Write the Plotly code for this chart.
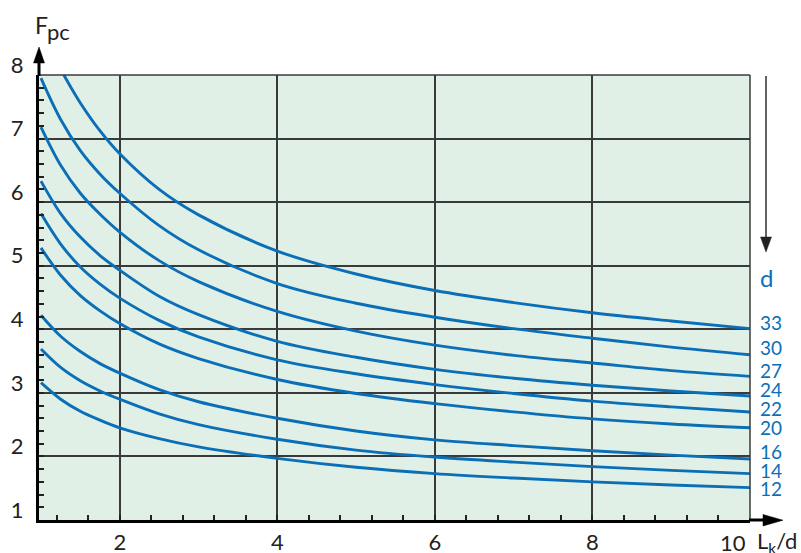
import plotly.graph_objects as go

# ---------------- data ----------------
diameters = ["33", "30", "27", "24", "22", "20", "16", "14", "12"]

x_d33 = [1.29, 1.5, 1.75, 2, 2.5, 3, 4, 5, 6, 7, 8, 9, 10]
y_d33 = [8.0, 7.56, 7.12, 6.76, 6.20, 5.80, 5.23, 4.87, 4.61, 4.42, 4.26, 4.13, 4.01]

x_common = [1, 1.25, 1.5, 1.75, 2, 2.5, 3, 4, 5, 6, 7, 8, 9, 10]
y_d30 = [7.95, 7.30, 6.81, 6.44, 6.14, 5.63, 5.25, 4.72, 4.41, 4.19, 4.01, 3.86, 3.72, 3.60]
y_d27 = [7.18, 6.58, 6.14, 5.81, 5.53, 5.08, 4.75, 4.28, 3.97, 3.75, 3.59, 3.47, 3.35, 3.26]
y_d24 = [6.33, 5.82, 5.45, 5.16, 4.93, 4.52, 4.23, 3.81, 3.56, 3.37, 3.23, 3.12, 3.03, 2.95]
y_d22 = [5.82, 5.34, 4.98, 4.71, 4.49, 4.14, 3.88, 3.52, 3.30, 3.13, 2.99, 2.87, 2.78, 2.70]
y_d20 = [5.28, 4.85, 4.53, 4.29, 4.09, 3.77, 3.54, 3.21, 2.99, 2.83, 2.70, 2.59, 2.51, 2.45]
y_d16 = [4.22, 3.89, 3.65, 3.46, 3.31, 3.05, 2.86, 2.60, 2.40, 2.26, 2.17, 2.09, 2.02, 1.96]
y_d14 = [3.69, 3.40, 3.19, 3.03, 2.90, 2.67, 2.50, 2.27, 2.10, 1.99, 1.91, 1.84, 1.78, 1.73]
y_d12 = [3.16, 2.90, 2.71, 2.57, 2.45, 2.28, 2.15, 1.97, 1.83, 1.73, 1.66, 1.60, 1.55, 1.51]

label_y = [4.10, 3.71, 3.35, 3.06, 2.75, 2.45, 2.07, 1.78, 1.49]

x_ticks = [2, 4, 6, 8, 10]
x_ticktext = ["2", "4", "6", "8", " "]
y_ticks = [1, 2, 3, 4, 5, 6, 7, 8]

# ---------------- style ----------------
BLUE = "#0b6fb8"
GRID = "#3a3a3a"
BG = "#e1f0e6"
TXT = "#222222"
FONT = "Lato"

W, H = 801, 553
L, R, T, B = 39, 51, 75, 33
PW, PH = W - L - R, H - T - B


def px(x):
    return (x - L) / PW


def py(y):
    return (H - B - y) / PH


series = [
    (x_d33, y_d33),
    (x_common, y_d30),
    (x_common, y_d27),
    (x_common, y_d24),
    (x_common, y_d22),
    (x_common, y_d20),
    (x_common, y_d16),
    (x_common, y_d14),
    (x_common, y_d12),
]

fig = go.Figure()
for name, (xs, ys) in zip(diameters, series):
    fig.add_trace(go.Scatter(
        x=xs, y=ys, mode="lines", name=name,
        line=dict(color=BLUE, width=2.9, shape="spline", smoothing=1.0),
        showlegend=False, hoverinfo="skip", cliponaxis=True,
    ))

annotations = []
for name, ly in zip(diameters, label_y):
    annotations.append(dict(
        x=10, y=ly, xref="x", yref="y", text=name, showarrow=False,
        xanchor="left", yanchor="middle", xshift=8,
        font=dict(family=FONT, size=19, color=BLUE),
    ))

annotations += [
    dict(x=px(33), y=py(25), xref="paper", yref="paper",
         text="F", showarrow=False, xanchor="left", yanchor="middle",
         font=dict(family=FONT, size=23, color=TXT)),
    dict(x=px(45), y=py(31), xref="paper", yref="paper",
         text="pc", showarrow=False, xanchor="left", yanchor="middle",
         font=dict(family=FONT, size=22, color=TXT)),
    dict(x=px(766), y=py(277), xref="paper", yref="paper",
         text="d", showarrow=False, xanchor="center", yanchor="middle",
         font=dict(family=FONT, size=24, color=BLUE)),
    dict(x=10, y=py(542), xref="x", yref="paper",
         text="10", showarrow=False, xanchor="right", yanchor="middle", xshift=-2,
         font=dict(family=FONT, size=22, color=TXT)),
    dict(x=10, y=py(542), xref="x", yref="paper",
         text="L<sub>k</sub>/d", showarrow=False, xanchor="left", yanchor="middle", xshift=5,
         font=dict(family=FONT, size=22, color=TXT)),
]

shapes = [
    # top and right frame
    dict(type="line", xref="paper", yref="paper", x0=0, x1=1, y0=1, y1=1,
         line=dict(color=GRID, width=1.5)),
    dict(type="line", xref="paper", yref="paper", x0=1, x1=1, y0=0, y1=1,
         line=dict(color=GRID, width=1.5)),
    # y-axis arrow
    dict(type="line", xref="paper", yref="paper", x0=px(39), x1=px(39), y0=py(76), y1=py(60),
         line=dict(color="black", width=3)),
    dict(type="path", xref="paper", yref="paper",
         path=f"M {px(33.5)},{py(63)} L {px(44.5)},{py(63)} L {px(39)},{py(47)} Z",
         fillcolor="black", line=dict(color="black", width=0.5)),
    # x-axis arrow
    dict(type="line", xref="paper", yref="paper", x0=px(749), x1=px(766), y0=py(520), y1=py(520),
         line=dict(color="black", width=3)),
    dict(type="path", xref="paper", yref="paper",
         path=f"M {px(763)},{py(514.5)} L {px(763)},{py(526)} L {px(783)},{py(520.2)} Z",
         fillcolor="black", line=dict(color="black", width=0.5)),
    # d arrow on the right
    dict(type="line", xref="paper", yref="paper", x0=px(766), x1=px(766), y0=py(76), y1=py(241),
         line=dict(color="#222", width=1.4)),
    dict(type="path", xref="paper", yref="paper",
         path=f"M {px(760.5)},{py(237)} L {px(771.5)},{py(237)} L {px(766)},{py(252)} Z",
         fillcolor="#222", line=dict(color="#222", width=0.5)),
]

fig.update_layout(
    width=W, height=H,
    margin=dict(l=L, r=R, t=T, b=B, pad=0, autoexpand=False),
    paper_bgcolor="white", plot_bgcolor=BG,
    showlegend=False,
    annotations=annotations,
    shapes=shapes,
    xaxis=dict(
        range=[0.975, 10], tickmode="array", tickvals=x_ticks, ticktext=x_ticktext,
        showgrid=True, gridcolor=GRID, gridwidth=1.5, zeroline=False,
        showline=True, linecolor="black", linewidth=3,
        ticks="inside", ticklen=5, tickwidth=1.5, tickcolor="#222",
        ticklabelstandoff=1, automargin=False,
        minor=dict(tickmode="linear", tick0=2, dtick=0.4, ticks="inside", ticklen=5,
                   tickwidth=1.5, tickcolor="#222", showgrid=False),
        tickfont=dict(family=FONT, size=22, color=TXT),
        fixedrange=True,
    ),
    yaxis=dict(
        range=[1, 8], tickmode="array", tickvals=y_ticks,
        showgrid=True, gridcolor=GRID, gridwidth=1.5, zeroline=False,
        showline=True, linecolor="black", linewidth=3,
        ticks="inside", ticklen=5, tickwidth=1.5, tickcolor="#222",
        ticklabelposition="outside", ticklabelstandoff=8, ticklabelshift=-10,
        automargin=False,
        minor=dict(tickmode="linear", tick0=1, dtick=0.2, ticks="inside", ticklen=5,
                   tickwidth=1.5, tickcolor="#222", showgrid=False),
        tickfont=dict(family=FONT, size=22, color=TXT),
        fixedrange=True,
    ),
)

fig.write_html(
    "out.html",
    config={"displayModeBar": False},
    post_script="document.body.style.margin='0px';document.body.style.overflow='hidden';",
)
